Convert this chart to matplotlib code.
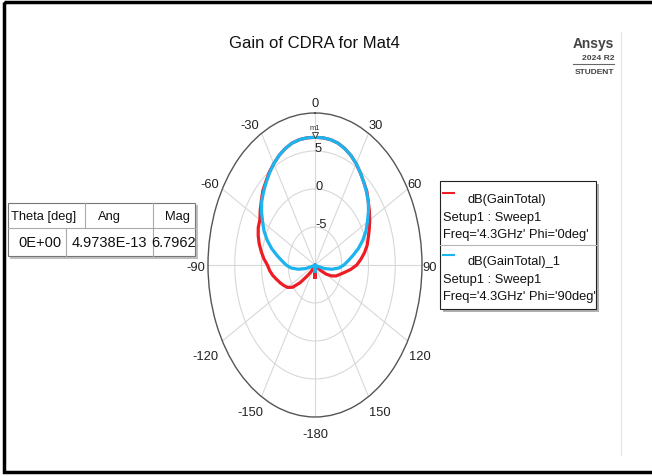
import numpy as np
import matplotlib.pyplot as plt
from matplotlib.patches import Rectangle
from matplotlib.transforms import ScaledTranslation

plt.rcParams['font.family'] = ['Liberation Sans Narrow', 'Liberation Sans', 'DejaVu Sans']

# Gain Total (dB) vs Theta, 5 deg steps from -180 to 180
theta_deg = np.arange(-180, 181, 5)
gain_phi0 = [
    -8.4, -10.0, -10.0, -10.0, -10.0, -10.0, -10.0, -9.6, -8.8, -8.0,       # -180 .. -135
    -6.4, -4.9, -4.1, -3.6, -3.1, -2.6, -2.0, -1.5, -1.1, -0.4,             # -130 .. -85
    0.2, 0.8, 1.3, 1.7, 1.9, 2.5, 3.1, 3.8, 4.3, 4.9,                       # -80 .. -35
    5.4, 5.9, 6.3, 6.6, 6.75, 6.8, 6.8,                                     # -30 .. 0
    6.8, 6.75, 6.6, 6.3, 5.9, 5.4, 4.8, 4.2, 3.7, 3.0,                      # 5 .. 50
    2.4, 1.8, 1.2, 0.6, 0.1, -0.6, -1.4, -2.2, -3.3, -4.4,                  # 55 .. 100
    -5.2, -5.8, -6.6, -7.6, -8.8, -10.0, -10.0, -10.0, -10.0, -10.0,        # 105 .. 150
    -10.0, -10.0, -10.0, -10.0, -10.0, -8.4,                                # 155 .. 180
]
gain_phi90 = [
    -9.2, -10.0, -10.0, -10.0, -10.0, -10.0, -10.0, -10.0, -10.0, -10.0,    # -180 .. -135
    -10.0, -10.0, -10.0, -10.0, -9.6, -8.2, -6.8, -5.5, -4.6, -3.8,         # -130 .. -85
    -2.8, -1.6, -0.5, 0.5, 1.3, 2.2, 3.0, 3.6, 4.2, 4.8,                    # -80 .. -35
    5.4, 5.9, 6.3, 6.6, 6.75, 6.8, 6.8,                                     # -30 .. 0
    6.8, 6.75, 6.6, 6.3, 5.9, 5.4, 4.8, 4.2, 3.6, 3.0,                      # 5 .. 50
    2.2, 1.3, 0.5, -0.5, -1.6, -2.8, -3.8, -4.6, -5.5, -6.8,                # 55 .. 100
    -8.2, -9.6, -10.0, -10.0, -10.0, -10.0, -10.0, -10.0, -10.0, -10.0,     # 105 .. 150
    -10.0, -10.0, -10.0, -10.0, -10.0, -9.2,                                # 155 .. 180
]

r_min, r_max = -10, 10
r_ticks = [-5, 0, 5]
r_tick_labels = ['-5', '0', '5']
theta_ticks = [0, 30, 60, 90, 120, 150, 180, 210, 240, 270, 300, 330]
theta_tick_labels = ['0', '30', '60', '90', '120', '150', '-180', '-150', '-120', '-90', '-60', '-30']

marker_theta = 0.0
marker_mag = 6.7962

legend_lines = [
    ("dB(GainTotal)", "Setup1 : Sweep1", "Freq='4.3GHz' Phi='0deg'"),
    ("dB(GainTotal)_1", "Setup1 : Sweep1", "Freq='4.3GHz' Phi='90deg'"),
]
table_header = ['Theta [deg]', 'Ang', 'Mag']
table_row = ['0E+00', '4.9738E-13', '6.7962']

RED = '#ee1c25'
BLUE = '#1cb4ee'
GRID = '#d8d8d8'
FS = 9.3

# label offsets (pixels) from the outer ring, per angle label
lab_dx = [0, 0, 0, 0, 1, 0, 0, 2, -4, -3, -3, -2]
lab_dy = [10, 8, 5, -2, -15, -15, -17, -15, -15, -2, 5, 8]

W, H = 652, 477
fig = plt.figure(figsize=(W / 100, H / 100), dpi=100)

# polar plot, stretched to an ellipse like the exported report
ax = fig.add_axes([208 / W, 1 - 418 / H, 214 / W, 304 / H], projection='polar')
ax.set_aspect('auto')
ax.set_theta_zero_location('N')
ax.set_theta_direction(-1)
ax.set_thetagrids(theta_ticks, labels=[''] * len(theta_ticks))
ax.set_xticks(np.deg2rad(np.arange(0, 360, 5)), minor=True)
ax.set_thetamin(0)
ax.set_thetamax(360)
ax.set_rlim(r_min, r_max)
ax.set_rgrids(r_ticks, labels=[''] * len(r_ticks))
ax.tick_params(axis='x', which='major', direction='in', length=4, color='#555555', width=0.8)
ax.tick_params(axis='x', which='minor', direction='in', length=3, color='#555555', width=0.7)
ax.grid(True, color=GRID, linewidth=0.8)
ax.spines['polar'].set_color('#555555')
ax.spines['polar'].set_linewidth(1.0)

th = np.deg2rad(theta_deg)
ax.plot(th, np.clip(gain_phi0, r_min, None), color=RED, lw=2.3, solid_joinstyle='round')
ax.plot(th, np.clip(gain_phi90, r_min, None), color=BLUE, lw=2.3, solid_joinstyle='round')

# angle labels just outside the ring
for a, lab, dx, dy in zip(theta_ticks, theta_tick_labels, lab_dx, lab_dy):
    if a in (0, 180):
        ha = 'center'
    elif a < 180:
        ha = 'left'
    else:
        ha = 'right'
    ax.annotate(lab, xy=(np.deg2rad(a), r_max), xytext=(dx, dy), textcoords='offset pixels',
                ha=ha, va='center', fontsize=FS, color='#222222', annotation_clip=False)

for r, lab in zip(r_ticks, r_tick_labels):
    ax.annotate(lab, xy=(0, r), xytext=(0, -3), textcoords='offset pixels',
                ha='left', va='bottom', fontsize=FS, color='#222222')

# marker m1 on the peak
up = ScaledTranslation(0, 1.5 / 72, fig.dpi_scale_trans)
ax.plot([marker_theta], [marker_mag], marker='v', ms=4.5, mfc='white', mec='#444444',
        mew=0.7, transform=ax.transData + up, clip_on=False, zorder=5)
ax.annotate('m1', xy=(marker_theta, marker_mag), xytext=(0, 4.5), textcoords='offset points',
            ha='center', va='bottom', fontsize=5.5, color='#333333')

# overlay in pixel coordinates for frame, legend, table and logo
ov = fig.add_axes([0, 0, 1, 1], zorder=-1)
ov.set_xlim(0, W)
ov.set_ylim(H, 0)
ov.axis('off')

ov.add_patch(Rectangle((4, 3), 660, 470, fill=False, ec='black', lw=2.5, clip_on=False))
ov.plot([621, 621], [33, 456], color='#e4e4e4', lw=0.8)

ov.text(314, 43, 'Gain of CDRA for Mat4', ha='center', va='center', fontsize=12, color='#111111')

ov.text(614, 44, 'Ansys', ha='right', va='center', fontsize=9.9, fontweight='bold', color='#444444')
ov.text(614, 58, '2024 R2', ha='right', va='center', fontsize=6.1, fontweight='bold', color='#444444')
ov.plot([573, 614], [65, 65], color='#666666', lw=0.8)
ov.text(614, 73, 'STUDENT', ha='right', va='center', fontsize=6.0, fontweight='bold', color='#444444')

# legend box
ov.add_patch(Rectangle((443, 185), 156, 128, fc='#b0b0b0', ec='none'))
ov.add_patch(Rectangle((440, 182), 156, 128, fc='white', ec='#222222', lw=0.8))
ov.plot([440, 596], [246, 246], color='#b5b5b5', lw=0.8)
for (l1, l2, l3), col, y0 in zip(legend_lines, [RED, BLUE], [200, 262]):
    ov.plot([443, 454], [y0 - 6, y0 - 6], color=col, lw=1.5)
    ov.text(468, y0, l1, ha='left', va='center', fontsize=FS, color='#111111')
    ov.text(443, y0 + 18, l2, ha='left', va='center', fontsize=FS, color='#111111')
    ov.text(443, y0 + 35, l3, ha='left', va='center', fontsize=FS, color='#111111')

# marker table
ov.add_patch(Rectangle((10, 206), 188, 54, fc='#c0c0c0', ec='none'))
ov.add_patch(Rectangle((8, 204), 187, 53, fc='white', ec='#777777', lw=0.8))
ov.plot([8, 195], [229, 229], color='#aaaaaa', lw=0.8)
ov.plot([85, 85], [204, 229], color='#aaaaaa', lw=0.8)
ov.plot([66, 66], [229, 257], color='#aaaaaa', lw=0.8)
ov.plot([153, 153], [204, 257], color='#aaaaaa', lw=0.8)
for xc, h in zip([44, 109, 177], table_header):
    ov.text(xc, 217, h, ha='center', va='center', fontsize=FS, color='#111111')
for xc, v in zip([40, 109, 174], table_row):
    ov.text(xc, 243, v, ha='center', va='center', fontsize=FS + 1.2, color='#111111')

fig.savefig('out.png', dpi=100)
